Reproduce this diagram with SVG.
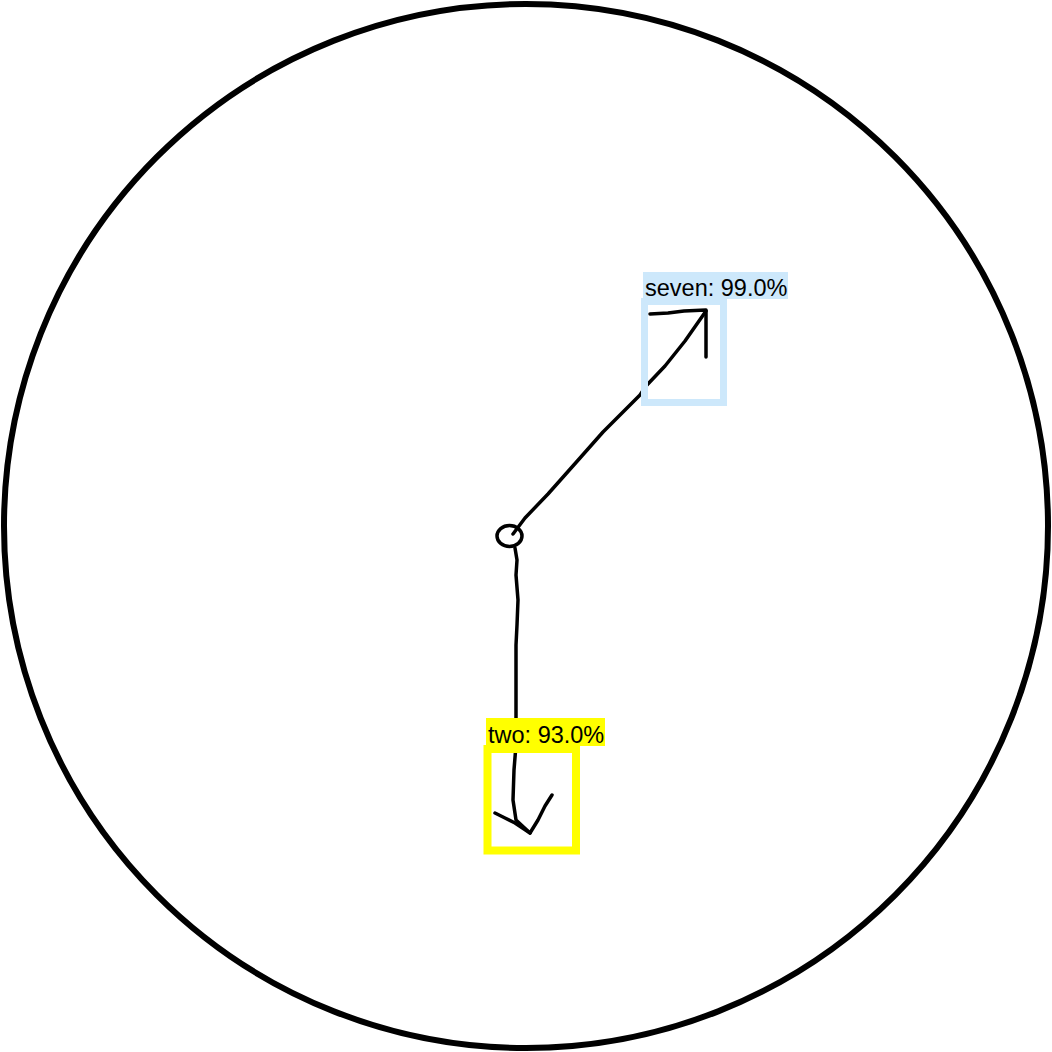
<svg xmlns="http://www.w3.org/2000/svg" width="1052" height="1052" viewBox="0 0 1052 1052">
<style>
.ink{fill:none;stroke:#000;stroke-width:3.5;stroke-linecap:round;stroke-linejoin:round}
.lbl{font-family:"Liberation Sans",Arial,sans-serif;font-size:23.5px;fill:#000}
</style>
<rect width="1052" height="1052" fill="#fff"/>
<g id="dial">
<circle cx="526" cy="526" r="522" fill="none" stroke="#000" stroke-width="6"/>
</g>
<g id="connectors">
<ellipse class="ink" cx="509.5" cy="536" rx="12.5" ry="10.5"/>
<path class="ink" d="M513,534 L525,518 L548,494 L580,458 L603,432 L625,410 L640,395 L646,386 L665,366 L685,341 L706,311"/>
<path class="ink" d="M650,314 L668,313 L684,311 L706,310 L706,357"/>
<path class="ink" d="M515,548 L517,560 L516,575 L518,600 L517,625 L516,645 L516,700 L516,745 L514,770 L513,800 L516,820 L530,833"/>
<path class="ink" d="M495,813 L505,818 L515,823 L530,833 L538,820 L545,806 L552,795"/>
</g>
<g id="seven">
<rect x="644.5" y="301.5" width="79" height="101" fill="none" stroke="#cde8fb" stroke-width="7"/>
<rect x="643" y="272" width="145" height="27" fill="#cde8fb"/>
<text class="lbl" x="645" y="295.5">seven: 99.0%</text>
</g>
<g id="two">
<rect x="487.5" y="749" width="88.5" height="101.5" fill="none" stroke="#ffff00" stroke-width="8"/>
<rect x="486" y="718" width="119" height="28" fill="#ffff00"/>
<text class="lbl" x="488" y="742.5">two: 93.0%</text>
</g>
</svg>
